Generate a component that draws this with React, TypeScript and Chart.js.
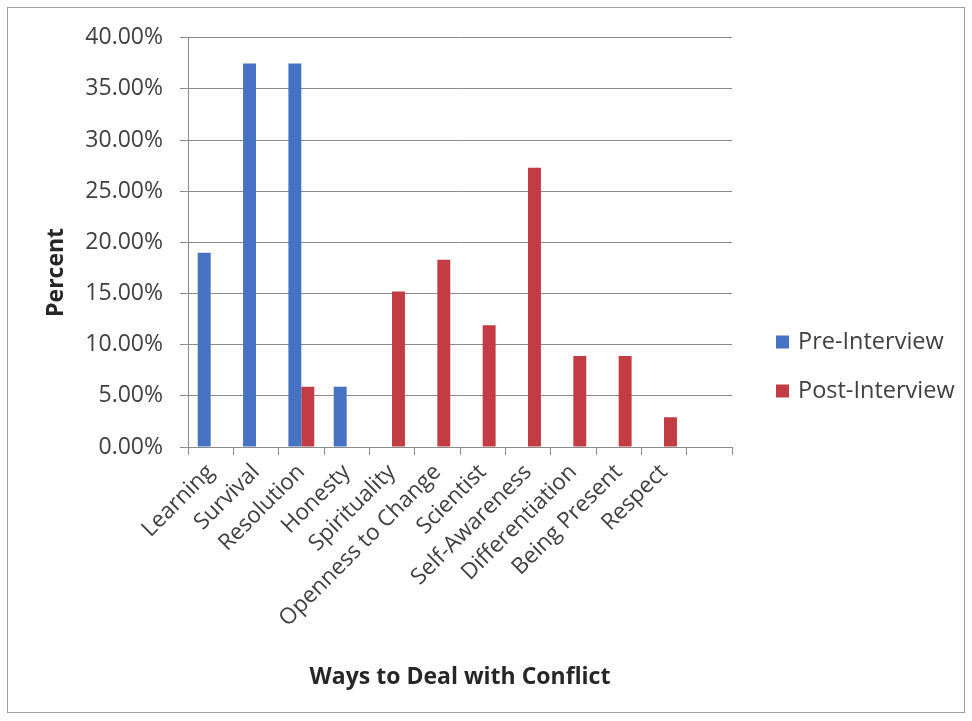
import React, { useEffect, useRef } from 'react';
import { Chart, registerables } from 'chart.js';

Chart.register(...registerables);

const categories = [
  'Learning',
  'Survival',
  'Resolution',
  'Honesty',
  'Spirituality',
  'Openness to Change',
  'Scientist',
  'Self-Awareness',
  'Differentiation',
  'Being Present',
  'Respect',
  '',
];
const preInterview = [0.19, 0.375, 0.375, 0.059, null, null, null, null, null, null, null, null];
const postInterview = [null, null, 0.059, null, 0.152, 0.183, 0.119, 0.273, 0.089, 0.089, 0.029, null];
const seriesNames = ['Pre-Interview', 'Post-Interview'];
const seriesColors = ['#4672C4', '#C43C43'];
const yTickValues = [0, 0.05, 0.1, 0.15, 0.2, 0.25, 0.3, 0.35, 0.4];
const xTitle = 'Ways to Deal with Conflict';
const yTitle = 'Percent';

const FONT = '"Open Sans", "Noto Sans", sans-serif';
const W = 958;
const H = 706;

const overlayPlugin = {
  id: 'overlay',
  beforeDraw(chart: any) {
    const ctx = chart.ctx;
    ctx.save();
    ctx.fillStyle = '#ffffff';
    ctx.fillRect(0, 0, W, H);
    ctx.strokeStyle = '#a0a0a0';
    ctx.lineWidth = 1;
    ctx.strokeRect(0.5, 0.5, W - 1, H - 1);
    ctx.restore();
  },
  afterDraw(chart: any) {
    const ctx = chart.ctx;
    const area = chart.chartArea;
    ctx.save();
    ctx.translate(49, (area.top + area.bottom) / 2 + 30);
    ctx.rotate(-Math.PI / 2);
    ctx.font = `bold 23px ${FONT}`;
    ctx.fillStyle = '#262626';
    ctx.textAlign = 'center';
    ctx.textBaseline = 'middle';
    ctx.fillText(yTitle, 0, 0);
    ctx.restore();

    ctx.save();
    chart.data.datasets.forEach((ds: any, i: number) => {
      const y = 335 + i * 49;
      ctx.fillStyle = ds.backgroundColor;
      ctx.fillRect(769, y - 6.5, 13, 13);
      ctx.fillStyle = '#404040';
      ctx.font = `23.5px ${FONT}`;
      ctx.textAlign = 'left';
      ctx.textBaseline = 'middle';
      ctx.fillText(ds.label, 791, y);
    });
    ctx.restore();
  },
};

export default function App() {
  const ref = useRef<HTMLCanvasElement | null>(null);

  useEffect(() => {
    if (!ref.current) return;
    const chart = new Chart(ref.current, {
      type: 'bar',
      data: {
        labels: categories,
        datasets: [
          {
            label: seriesNames[0],
            data: preInterview,
            backgroundColor: seriesColors[0],
            categoryPercentage: 0.571,
            barPercentage: 1,
          },
          {
            label: seriesNames[1],
            data: postInterview,
            backgroundColor: seriesColors[1],
            categoryPercentage: 0.571,
            barPercentage: 1,
          },
        ],
      },
      options: {
        responsive: false,
        animation: false,
        devicePixelRatio: 1,
        layout: { padding: { left: 0, right: W - 725, top: 29, bottom: 0 } },
        plugins: {
          legend: { display: false },
          tooltip: { enabled: false },
        },
        scales: {
          x: {
            offset: true,
            grid: {
              offset: true,
              drawOnChartArea: false,
              drawTicks: true,
              tickLength: 8,
              tickColor: '#8a8a8a',
            },
            border: { display: true, color: '#8a8a8a', width: 1 },
            ticks: {
              autoSkip: false,
              minRotation: 45,
              maxRotation: 45,
              padding: 4,
              color: '#404040',
              font: { family: FONT, size: 22.5 },
            },
            title: {
              display: true,
              text: xTitle,
              color: '#262626',
              font: { family: FONT, size: 23, weight: 'bold' },
              padding: { top: 0, bottom: 22 },
            },
            afterFit(scale: any) {
              scale.height = H - 440;
            },
          },
          y: {
            min: 0,
            max: 0.4,
            afterBuildTicks(scale: any) {
              scale.ticks = yTickValues.map((v) => ({ value: v }));
            },
            grid: {
              color: '#8a8a8a',
              tickColor: '#8a8a8a',
              tickLength: 8,
              lineWidth: 1,
            },
            border: { display: true, color: '#8a8a8a', width: 1 },
            ticks: {
              padding: 17,
              color: '#404040',
              font: { family: FONT, size: 23 },
              callback: (v: any) => (Number(v) * 100).toFixed(2) + '%',
            },
            afterFit(scale: any) {
              scale.width = 181;
            },
          },
        },
      },
      plugins: [overlayPlugin],
    });
    return () => chart.destroy();
  }, []);

  return (
    <div style={{ position: 'absolute', left: 7, top: 7, width: W, height: H }}>
      <canvas ref={ref} width={W} height={H} style={{ display: 'block', width: W, height: H }} />
    </div>
  );
}
